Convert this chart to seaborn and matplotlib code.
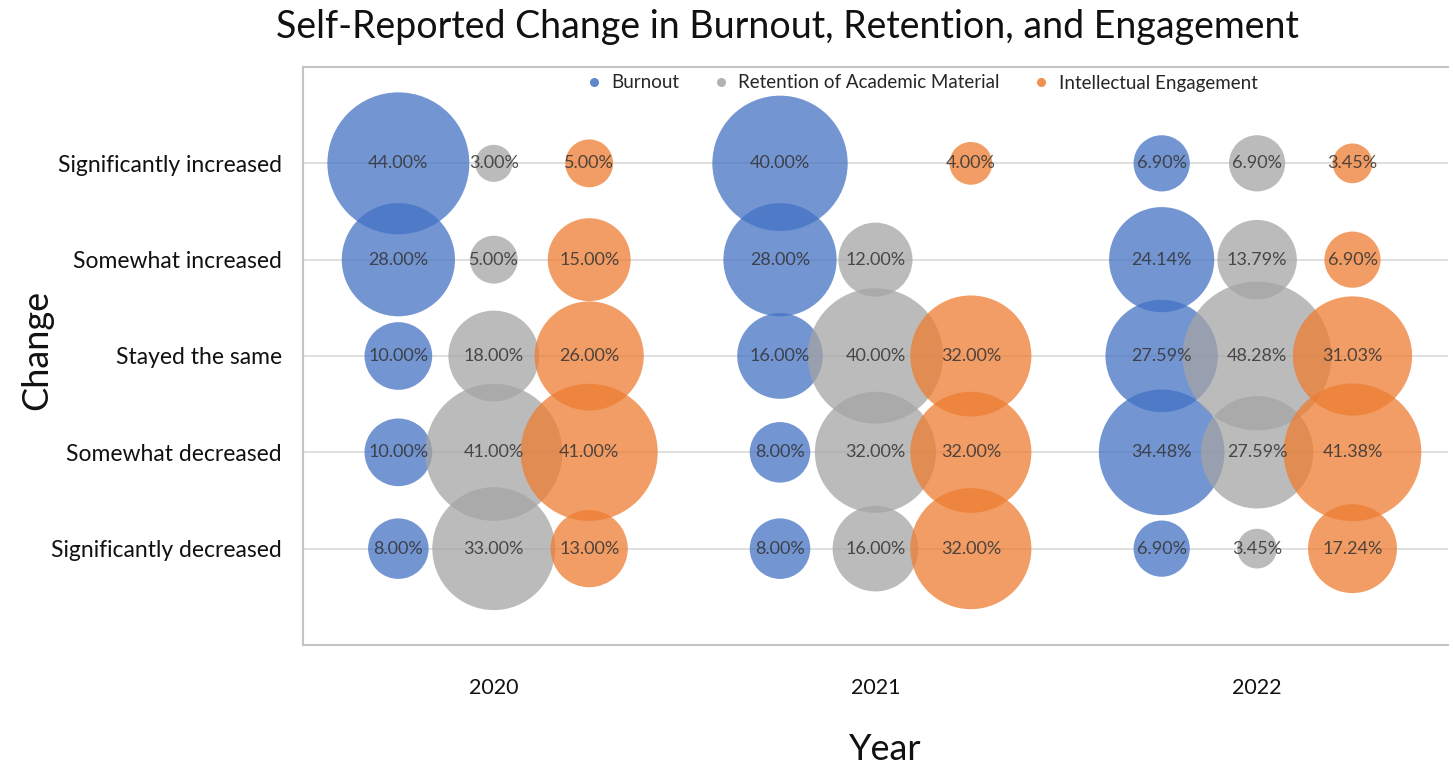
import numpy as np
import pandas as pd
import matplotlib
matplotlib.use("Agg")
import matplotlib.pyplot as plt
from matplotlib.lines import Line2D
import seaborn as sns

# Chart data
years = ["2020", "2021", "2022"]
changes = ["Significantly increased", "Somewhat increased", "Stayed the same",
           "Somewhat decreased", "Significantly decreased"]
series = ["Burnout", "Retention of Academic Material", "Intellectual Engagement"]

# percentages per year, listed in the order of `changes` (None = no bubble)
burnout_2020 = [44.00, 28.00, 10.00, 10.00, 8.00]
retention_2020 = [3.00, 5.00, 18.00, 41.00, 33.00]
engagement_2020 = [5.00, 15.00, 26.00, 41.00, 13.00]
burnout_2021 = [40.00, 28.00, 16.00, 8.00, 8.00]
retention_2021 = [None, 12.00, 40.00, 32.00, 16.00]
engagement_2021 = [4.00, None, 32.00, 32.00, 32.00]
burnout_2022 = [6.90, 24.14, 27.59, 34.48, 6.90]
retention_2022 = [6.90, 13.79, 48.28, 27.59, 3.45]
engagement_2022 = [3.45, 6.90, 31.03, 41.38, 17.24]

values = {
    "Burnout": [burnout_2020, burnout_2021, burnout_2022],
    "Retention of Academic Material": [retention_2020, retention_2021, retention_2022],
    "Intellectual Engagement": [engagement_2020, engagement_2021, engagement_2022],
}

colors = {"Burnout": "#4472C4",
          "Retention of Academic Material": "#A5A5A5",
          "Intellectual Engagement": "#ED7D31"}
offsets = {"Burnout": -0.25, "Retention of Academic Material": 0.0,
           "Intellectual Engagement": 0.25}

# long table: one row per bubble
rows = []
for s in series:
    for yi, yr in enumerate(years):
        for ci, ch in enumerate(changes):
            v = values[s][yi][ci]
            if v is None:
                continue
            rows.append({"series": s, "x": yi + offsets[s],
                         "y": len(changes) - ci, "pct": v})
df = pd.DataFrame(rows)

sns.set_theme(style="white")
plt.rcParams["font.family"] = ["Lato", "DejaVu Sans"]

fig = plt.figure(figsize=(14.53, 7.65), dpi=100)
ax = fig.add_axes([0.2085, 0.1569, 0.788, 0.7555])

# bubble area proportional to the percentage
sns.scatterplot(data=df, x="x", y="y", hue="series", palette=colors,
                hue_order=series, size="pct", sizes=(0, 50 * 237.4),
                size_norm=(0, 50), alpha=0.75, linewidth=0, legend=False, ax=ax)

for _, r in df.iterrows():
    ax.text(r["x"], r["y"], f"{r['pct']:.2f}%", ha="center", va="center",
            fontsize=13, color="#333333", alpha=0.85)

ax.set_xlim(-0.5, 2.5)
ax.set_ylim(0, 6)
ax.set_yticks(range(1, len(changes) + 1))
ax.set_yticklabels(changes[::-1], fontsize=16.5, color="#111111")
ax.set_xticks(range(len(years)))
ax.set_xticklabels(years, fontsize=15.5, color="#111111")
ax.tick_params(axis="y", length=0, pad=15)
ax.tick_params(axis="x", length=0, pad=24)
ax.yaxis.grid(True, color="#d9d9d9", linewidth=1.2)
ax.set_axisbelow(True)
ax.set_xlabel("")
ax.set_ylabel("")
for side in ["left", "top", "bottom"]:
    ax.spines[side].set_color("#c4c4c4")
    ax.spines[side].set_linewidth(1.5)
ax.spines["right"].set_visible(False)

handles = [Line2D([0], [0], marker="o", linestyle="", markersize=6.5,
                  markerfacecolor=colors[s], markeredgewidth=0, alpha=0.85)
           for s in series]
ax.legend(handles, series, ncol=3, frameon=False, fontsize=13.5,
          loc="center", bbox_to_anchor=(922 / 1453, 1 - 83 / 765),
          bbox_transform=fig.transFigure, handlelength=0.8,
          handletextpad=0.55, columnspacing=1.8)

fig.text(787 / 1453, 1 - 27 / 765,
         "Self-Reported Change in Burnout, Retention, and Engagement",
         ha="center", va="center", fontsize=27, color="#111111")
fig.text(37 / 1453, 1 - 350 / 765, "Change", rotation=90,
         ha="center", va="center", fontsize=26, color="#111111")
fig.text(885 / 1453, 1 - 750 / 765, "Year", ha="center", va="center",
         fontsize=26, color="#111111")

fig.savefig("out.png", dpi=100)
